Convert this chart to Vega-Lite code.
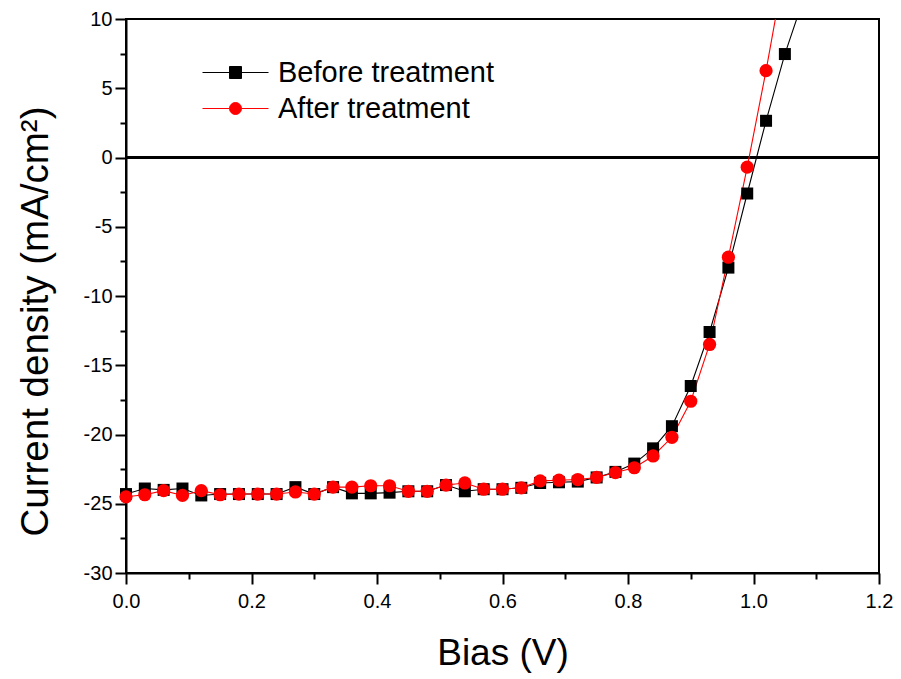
{
  "$schema": "https://vega.github.io/schema/vega-lite/v6.json",
  "width": 753,
  "height": 554,
  "autosize": {"type": "none"},
  "padding": {"left": 126, "top": 19, "right": 22, "bottom": 106},
  "background": "white",
  "config": {
    "view": {"stroke": "black", "strokeWidth": 2},
    "font": "Liberation Sans",
    "axis": {
      "grid": false,
      "domainColor": "black",
      "domainWidth": 2,
      "tickColor": "black",
      "tickWidth": 2,
      "labelColor": "black",
      "titleColor": "black",
      "labelFont": "Liberation Sans",
      "titleFont": "Liberation Sans",
      "labelFontSize": 20,
      "titleFontWeight": "normal",
      "labelOverlap": false,
      "labelBound": false,
      "labelFlush": false
    }
  },
  "data": {
    "values": [
      {"V": 0.00, "J": -24.3, "series": "Before treatment"},
      {"V": 0.03, "J": -23.9, "series": "Before treatment"},
      {"V": 0.06, "J": -24.0, "series": "Before treatment"},
      {"V": 0.09, "J": -23.9, "series": "Before treatment"},
      {"V": 0.12, "J": -24.4, "series": "Before treatment"},
      {"V": 0.15, "J": -24.3, "series": "Before treatment"},
      {"V": 0.18, "J": -24.3, "series": "Before treatment"},
      {"V": 0.21, "J": -24.3, "series": "Before treatment"},
      {"V": 0.24, "J": -24.3, "series": "Before treatment"},
      {"V": 0.27, "J": -23.8, "series": "Before treatment"},
      {"V": 0.30, "J": -24.3, "series": "Before treatment"},
      {"V": 0.33, "J": -23.8, "series": "Before treatment"},
      {"V": 0.36, "J": -24.25, "series": "Before treatment"},
      {"V": 0.39, "J": -24.25, "series": "Before treatment"},
      {"V": 0.42, "J": -24.2, "series": "Before treatment"},
      {"V": 0.45, "J": -24.1, "series": "Before treatment"},
      {"V": 0.48, "J": -24.1, "series": "Before treatment"},
      {"V": 0.51, "J": -23.65, "series": "Before treatment"},
      {"V": 0.54, "J": -24.1, "series": "Before treatment"},
      {"V": 0.57, "J": -23.95, "series": "Before treatment"},
      {"V": 0.60, "J": -23.95, "series": "Before treatment"},
      {"V": 0.63, "J": -23.85, "series": "Before treatment"},
      {"V": 0.66, "J": -23.5, "series": "Before treatment"},
      {"V": 0.69, "J": -23.45, "series": "Before treatment"},
      {"V": 0.72, "J": -23.4, "series": "Before treatment"},
      {"V": 0.75, "J": -23.1, "series": "Before treatment"},
      {"V": 0.78, "J": -22.7, "series": "Before treatment"},
      {"V": 0.81, "J": -22.1, "series": "Before treatment"},
      {"V": 0.84, "J": -21.0, "series": "Before treatment"},
      {"V": 0.87, "J": -19.4, "series": "Before treatment"},
      {"V": 0.90, "J": -16.5, "series": "Before treatment"},
      {"V": 0.93, "J": -12.6, "series": "Before treatment"},
      {"V": 0.96, "J": -7.95, "series": "Before treatment"},
      {"V": 0.99, "J": -2.6, "series": "Before treatment"},
      {"V": 1.02, "J": 2.65, "series": "Before treatment"},
      {"V": 1.05, "J": 7.47, "series": "Before treatment"},
      {"V": 1.08, "J": 11.5, "series": "Before treatment"},
      {"V": 0.00, "J": -24.5, "series": "After treatment"},
      {"V": 0.03, "J": -24.35, "series": "After treatment"},
      {"V": 0.06, "J": -24.05, "series": "After treatment"},
      {"V": 0.09, "J": -24.4, "series": "After treatment"},
      {"V": 0.12, "J": -24.05, "series": "After treatment"},
      {"V": 0.15, "J": -24.35, "series": "After treatment"},
      {"V": 0.18, "J": -24.3, "series": "After treatment"},
      {"V": 0.21, "J": -24.3, "series": "After treatment"},
      {"V": 0.24, "J": -24.3, "series": "After treatment"},
      {"V": 0.27, "J": -24.15, "series": "After treatment"},
      {"V": 0.30, "J": -24.3, "series": "After treatment"},
      {"V": 0.33, "J": -23.8, "series": "After treatment"},
      {"V": 0.36, "J": -23.8, "series": "After treatment"},
      {"V": 0.39, "J": -23.7, "series": "After treatment"},
      {"V": 0.42, "J": -23.7, "series": "After treatment"},
      {"V": 0.45, "J": -24.1, "series": "After treatment"},
      {"V": 0.48, "J": -24.1, "series": "After treatment"},
      {"V": 0.51, "J": -23.65, "series": "After treatment"},
      {"V": 0.54, "J": -23.5, "series": "After treatment"},
      {"V": 0.57, "J": -23.95, "series": "After treatment"},
      {"V": 0.60, "J": -23.95, "series": "After treatment"},
      {"V": 0.63, "J": -23.85, "series": "After treatment"},
      {"V": 0.66, "J": -23.35, "series": "After treatment"},
      {"V": 0.69, "J": -23.3, "series": "After treatment"},
      {"V": 0.72, "J": -23.25, "series": "After treatment"},
      {"V": 0.75, "J": -23.1, "series": "After treatment"},
      {"V": 0.78, "J": -22.75, "series": "After treatment"},
      {"V": 0.81, "J": -22.4, "series": "After treatment"},
      {"V": 0.84, "J": -21.55, "series": "After treatment"},
      {"V": 0.87, "J": -20.2, "series": "After treatment"},
      {"V": 0.90, "J": -17.6, "series": "After treatment"},
      {"V": 0.93, "J": -13.5, "series": "After treatment"},
      {"V": 0.96, "J": -7.2, "series": "After treatment"},
      {"V": 0.99, "J": -0.7, "series": "After treatment"},
      {"V": 1.02, "J": 6.27, "series": "After treatment"},
      {"V": 1.05, "J": 13.8, "series": "After treatment"}
    ]
  },
  "encoding": {
    "x": {
      "field": "V",
      "type": "quantitative",
      "scale": {"domain": [0, 1.2], "nice": false, "zero": false},
      "axis": {
        "title": "Bias (V)",
        "titleFontSize": 37,
        "titlePadding": 24,
        "values": [0, 0.1, 0.2, 0.3, 0.4, 0.5, 0.6, 0.7, 0.8, 0.9, 1.0, 1.1, 1.2],
        "labelExpr": "abs(datum.value*5 - round(datum.value*5)) < 0.001 ? format(datum.value, '.1f') : ''",
        "tickSize": {"condition": {"test": "abs(datum.value*5 - round(datum.value*5)) < 0.001", "value": 11}, "value": 6},
        "labelPadding": 7
      }
    },
    "y": {
      "field": "J",
      "type": "quantitative",
      "scale": {"domain": [-30, 10], "nice": false, "zero": false},
      "axis": {
        "title": "Current density (mA/cm²)",
        "titleFontSize": 38.5,
        "titlePadding": 28,
        "titleY": 302,
        "values": [-30, -27.5, -25, -22.5, -20, -17.5, -15, -12.5, -10, -7.5, -5, -2.5, 0, 2.5, 5, 7.5, 10],
        "labelExpr": "datum.value % 5 == 0 ? '' + datum.value : ''",
        "tickSize": {"condition": {"test": "datum.value % 5 == 0", "value": 11}, "value": 6},
        "labelPadding": 3
      }
    }
  },
  "layer": [
    {
      "mark": {"type": "rule", "color": "black", "strokeWidth": 2},
      "encoding": {"y": {"datum": 0}, "x": null}
    },
    {
      "mark": {"type": "line", "strokeWidth": 1.1, "clip": true},
      "encoding": {
        "color": {
          "field": "series",
          "type": "nominal",
          "sort": ["Before treatment", "After treatment"],
          "scale": {"domain": ["Before treatment", "After treatment"], "range": ["#000000", "#ff0000"]},
          "legend": {
            "title": null,
            "orient": "none",
            "legendX": 95,
            "legendY": 39,
            "padding": 0,
            "labelFontSize": 29,
            "labelFont": "Liberation Sans",
            "labelColor": "black",
            "labelLimit": 0,
            "labelOffset": 28,
            "rowPadding": 6,
            "symbolSize": 144,
            "symbolStrokeWidth": 1,
            "encode": {
              "symbols": {
                "update": {
                  "shape": {"signal": "datum.value == 'Before treatment' ? 'M-5.5,0H5.5M-1,-1H1V1H-1Z' : 'M-5.5,0H-1A1,1,0,1,1,1,0A1,1,0,1,1,-1,0M1,0H5.5'"},
                  "fill": {"scale": "color", "field": "value"},
                  "stroke": {"scale": "color", "field": "value"},
                  "strokeWidth": {"value": 1},
                  "opacity": {"value": 1},
                  "fillOpacity": {"value": 1}
                }
              }
            }
          }
        },
        "order": {"field": "V"}
      }
    },
    {
      "transform": [{"filter": "datum.J <= 10 && datum.series == 'Before treatment'"}],
      "mark": {"type": "point", "shape": "square", "size": 144, "filled": true, "opacity": 1, "clip": false},
      "encoding": {
        "color": {"field": "series", "type": "nominal"}
      }
    },
    {
      "transform": [{"filter": "datum.J <= 10 && datum.series == 'After treatment'"}],
      "mark": {"type": "point", "shape": "circle", "size": 175, "filled": true, "opacity": 1, "clip": false},
      "encoding": {
        "color": {"field": "series", "type": "nominal"}
      }
    }
  ]
}
